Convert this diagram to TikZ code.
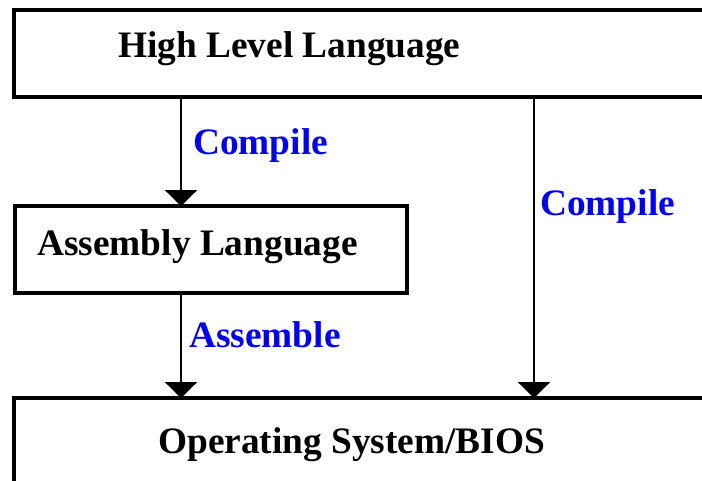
\documentclass[tikz,border=0pt]{standalone}
\usepackage{fontspec}
\setmainfont{Liberation Serif}
\usetikzlibrary{arrows.meta}

\tikzset{
  layer/.style={draw, rectangle, line width=2.6pt, inner sep=0pt, outer sep=0pt, anchor=north west},
  flow/.style={-{Triangle[width=24pt,length=12pt]}, line width=2.1pt},
  boxtext/.style={font=\bfseries\fontsize{28}{32}\selectfont, anchor=base west, inner sep=0pt},
  steplabel/.style={boxtext, text=blue}
}

\begin{document}
\begin{tikzpicture}[x=0.75pt,y=-0.75pt]
  % 1 unit = 1 pixel of the 702x481 frame, y grows downwards
  \path[use as bounding box, clip] (0,0) rectangle (702,481);
  \fill[white] (0,0) rectangle (702,481);

  % Layers
  \node[layer, minimum width=530pt, minimum height=65.25pt] (hll) at (14,10) {};
  \node[layer, minimum width=294pt, minimum height=65.25pt] (asm) at (15,206) {};
  \node[layer, minimum width=530pt, minimum height=80pt] (os) at (14,398) {};

  \node[boxtext] (hlltext) at (118,58) {High Level Language};
  \node[boxtext] (asmtext) at (37,255) {Assembly Language};
  \node[boxtext] (ostext) at (158,453) {Operating System/BIOS};

  % Arrow columns
  \coordinate (leftcol) at (181,0);
  \coordinate (rightcol) at (534,0);

  \draw[flow] (hll.south -| leftcol) -- (asm.north -| leftcol);
  \draw[flow] (asm.south -| leftcol) -- (os.north -| leftcol);
  \draw[flow] (hll.south -| rightcol) -- (os.north -| rightcol);

  \node[steplabel] (compileA) at (193,155) {Compile};
  \node[steplabel] (assemble) at (189,347) {Assemble};
  \node[steplabel] (compileB) at (540,215) {Compile};
\end{tikzpicture}
\end{document}
